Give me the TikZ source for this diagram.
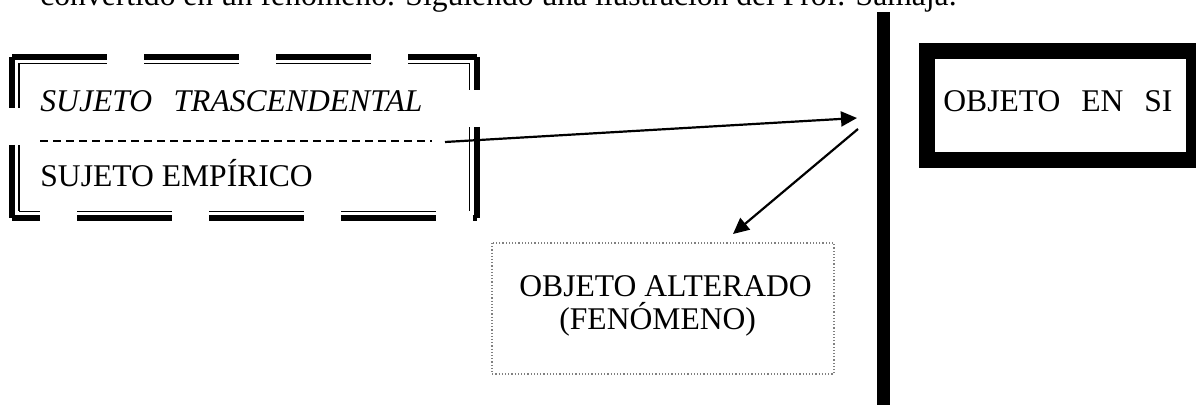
\documentclass[tikz,border=0pt]{standalone}
\usepackage{fontspec}
\setmainfont{Liberation Serif}
\usetikzlibrary{arrows.meta}
\tikzset{
	txt/.style={font=\fontsize{15.8}{18}\selectfont, inner sep=0pt, anchor=base west},
	thickdash/.style={line width=3pt, dash pattern=on 47.5pt off 18.5pt},
	thindash/.style={line width=0.9pt, dash pattern=on 47.5pt off 18.5pt},
	arr/.style={line width=1.1pt, -{Triangle[length=8pt,width=7.5pt]}}
}

\begin{document}
\begin{tikzpicture}[x=0.5pt, y=-0.5pt]
			%%%%% START %%%%%
			\useasboundingbox (0, 0) rectangle (1196, 405);
			
			\node[txt] (intro) at (40, 6) {convertido en un fenómeno. Siguiendo una ilustración del Prof. Samaja.};
			
			% marco del sujeto
			\draw[thickdash] (12, 57) -- (477, 57);
			\draw[thickdash, dash phase=31pt] (477, 57) -- (477, 218);
			\draw[thickdash, dash phase=33.5pt] (12, 218) -- (477, 218);
			\draw[thickdash, dash phase=22pt] (12, 57) -- (12, 218);
			
			\draw[thindash, dash phase=3.5pt] (19, 63.5) -- (469.5, 63.5);
			\draw[thindash, dash phase=34pt] (469.5, 63.5) -- (469.5, 211.5);
			\draw[thindash, dash phase=37pt] (19, 211.5) -- (469.5, 211.5);
			\draw[thindash, dash phase=25pt] (19, 63.5) -- (19, 211.5);
			
			\node[txt] (trasc) at (40, 112) {\itshape SUJETO\hspace{0.68em}TRASCENDENTAL};
			\coordinate (sepL) at (40, 141);
			\coordinate (sepR) at (432, 141);
			\draw[line width=0.8pt, dash pattern=on 4pt off 2.5pt] (sepL) -- (sepR);
			\node[txt] (empir) at (40, 187) {SUJETO EMPÍRICO};
			
			% barra
			\coordinate (bartop) at (883.5, 12);
			\coordinate (barbot) at (883.5, 410);
			\draw[line width=6.5pt] (bartop) -- (barbot);
			
			% objeto en si
			\draw[line width=8pt] (927, 51) rectangle (1194, 160);
			\node[txt] (ensi) at (943, 112) {OBJETO\hspace{0.66em}EN\hspace{0.66em}SI};
			
			% fenomeno
			\draw[gray, densely dotted, line width=0.6pt] (492, 243) rectangle (834, 374);
			\node[txt] (alter) at (519, 297) {OBJETO ALTERADO};
			\node[txt] (fenom) at (559, 330) {(FENÓMENO)};
			
			% flechas
			\coordinate (a1) at (445, 142);
			\coordinate (b1) at (857, 118);
			\coordinate (a2) at (858, 129);
			\coordinate (b2) at (733, 234);
			\draw[arr] (a1) -- (b1);
			\draw[arr] (a2) -- (b2);
			
			%%%%% END %%%%%
\end{tikzpicture}
\end{document}
